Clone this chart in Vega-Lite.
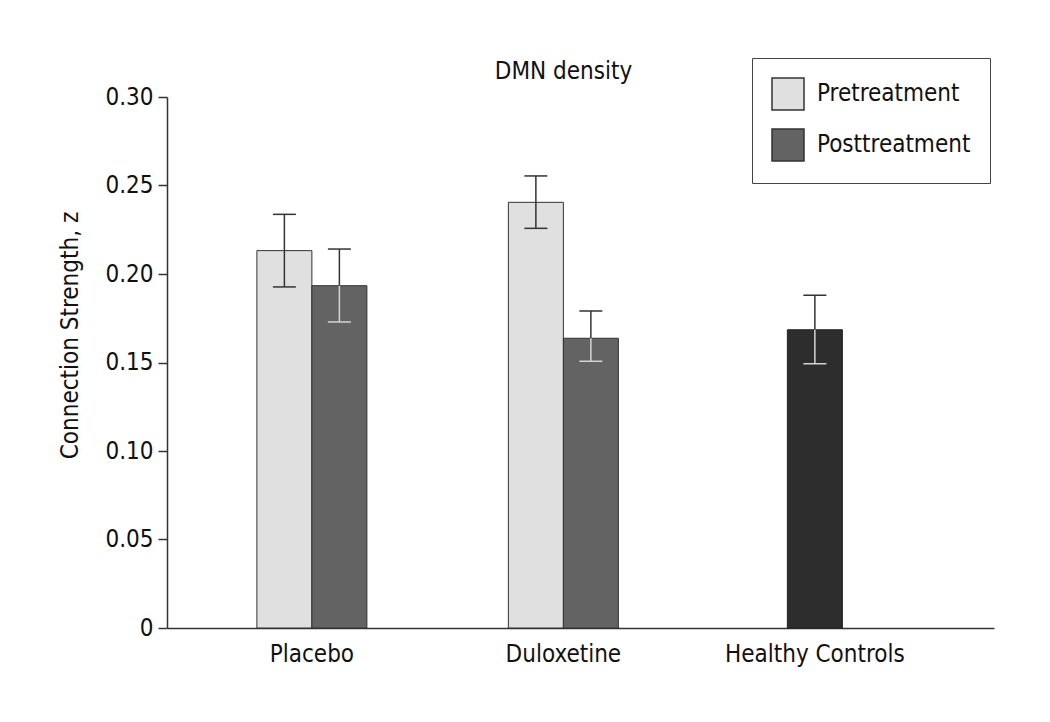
{
  "$schema": "https://vega.github.io/schema/vega-lite/v6.json",
  "autosize": "none",
  "width": 827,
  "height": 531,
  "padding": {"left": 167, "top": 97, "right": 56, "bottom": 94},
  "background": "white",
  "config": {
    "font": "Liberation Sans Narrow, DejaVu Sans Condensed, sans-serif",
    "view": {"stroke": null},
    "axis": {"domainColor": "#333", "domainWidth": 1.5, "tickColor": "#333", "tickWidth": 1.5, "labelColor": "#111", "titleColor": "#111", "labelFontSize": 24, "titleFontSize": 24, "titleFontWeight": "normal", "grid": false}
  },
  "title": {"text": "DMN density", "fontSize": 24, "fontWeight": "normal", "color": "#111", "anchor": "middle", "dx": -17, "offset": -26},
  "data": {
    "values": [
      {"group": "Placebo", "cond": "Pretreatment", "value": 0.2132, "lo": 0.1927, "hi": 0.2337},
      {"group": "Placebo", "cond": "Posttreatment", "value": 0.1934, "lo": 0.1729, "hi": 0.2141},
      {"group": "Duloxetine", "cond": "Pretreatment", "value": 0.2405, "lo": 0.2258, "hi": 0.2554},
      {"group": "Duloxetine", "cond": "Posttreatment", "value": 0.1637, "lo": 0.1507, "hi": 0.1791},
      {"group": "Healthy Controls", "cond": "Healthy", "value": 0.1685, "lo": 0.1493, "hi": 0.188}
    ]
  },
  "encoding": {
    "x": {"field": "group", "type": "nominal", "sort": ["Placebo", "Duloxetine", "Healthy Controls"],
      "scale": {"domain": ["Placebo", "Duloxetine", "Healthy Controls"], "paddingInner": 0.5626, "paddingOuter": 0.4255, "align": 0.42},
      "axis": {"title": null, "labelAngle": 0, "ticks": false, "labelPadding": 14}},
    "y": {"field": "value", "type": "quantitative",
      "scale": {"domain": [0, 0.3], "nice": false},
      "axis": {"title": "Connection Strength, z", "values": [0, 0.05, 0.1, 0.15, 0.2, 0.25, 0.3], "tickSize": 9, "labelPadding": 5, "titlePadding": 22, "titleY": 238,
        "labelExpr": "datum.value == 0 ? '0' : format(datum.value, '.2f')"}}
  },
  "layer": [
    {
      "transform": [{"filter": "datum.group != 'Healthy Controls'"}],
      "encoding": {
        "xOffset": {"field": "cond", "type": "nominal", "scale": {"domain": ["Pretreatment", "Posttreatment"], "paddingInner": 0, "paddingOuter": 0}}
      },
      "layer": [
        {"mark": {"type": "bar", "stroke": "#333", "strokeWidth": 1},
          "encoding": {"color": {"field": "cond", "type": "nominal",
            "scale": {"domain": ["Pretreatment", "Posttreatment"], "range": ["#e0e0e0", "#636363"]},
            "legend": {"title": null, "orient": "none", "legendX": 585, "legendY": -39, "symbolType": "square", "symbolSize": 1024, "symbolStrokeColor": "#333", "symbolStrokeWidth": 1.5, "labelFontSize": 24, "labelOffset": 12, "labelColor": "#111", "strokeColor": "#444", "padding": 19, "rowPadding": 13, "fillColor": "white"}}}},
        {"mark": {"type": "rule", "strokeWidth": 1.5, "color": "#333"},
          "encoding": {"y2": {"field": "hi"}}},
        {"mark": {"type": "rule", "strokeWidth": 1.5},
          "encoding": {"y": {"field": "lo", "type": "quantitative"}, "y2": {"field": "value"},
            "stroke": {"condition": {"test": "datum.cond == 'Posttreatment'", "value": "#d4d4d4"}, "value": "#333"}}},
        {"mark": {"type": "tick", "thickness": 1.5, "size": 23, "color": "#333", "opacity": 1},
          "encoding": {"y": {"field": "hi", "type": "quantitative"}}},
        {"mark": {"type": "tick", "thickness": 1.5, "size": 23, "opacity": 1},
          "encoding": {"y": {"field": "lo", "type": "quantitative"},
            "color": {"condition": {"test": "datum.cond == 'Posttreatment'", "value": "#d4d4d4"}, "value": "#333"}}}
      ]
    },
    {
      "transform": [{"filter": "datum.group == 'Healthy Controls'"}],
      "layer": [
        {"mark": {"type": "bar", "stroke": "#222", "strokeWidth": 1, "fill": "#2d2d2d", "width": {"band": 0.5}}},
        {"mark": {"type": "rule", "strokeWidth": 1.5, "color": "#333"},
          "encoding": {"y2": {"field": "hi"}}},
        {"mark": {"type": "rule", "strokeWidth": 1.5, "color": "#d4d4d4"},
          "encoding": {"y": {"field": "lo", "type": "quantitative"}, "y2": {"field": "value"}}},
        {"mark": {"type": "tick", "thickness": 1.5, "size": 23, "color": "#333", "opacity": 1},
          "encoding": {"y": {"field": "hi", "type": "quantitative"}}},
        {"mark": {"type": "tick", "thickness": 1.5, "size": 23, "color": "#d4d4d4", "opacity": 1},
          "encoding": {"y": {"field": "lo", "type": "quantitative"}}}
      ]
    }
  ]
}
